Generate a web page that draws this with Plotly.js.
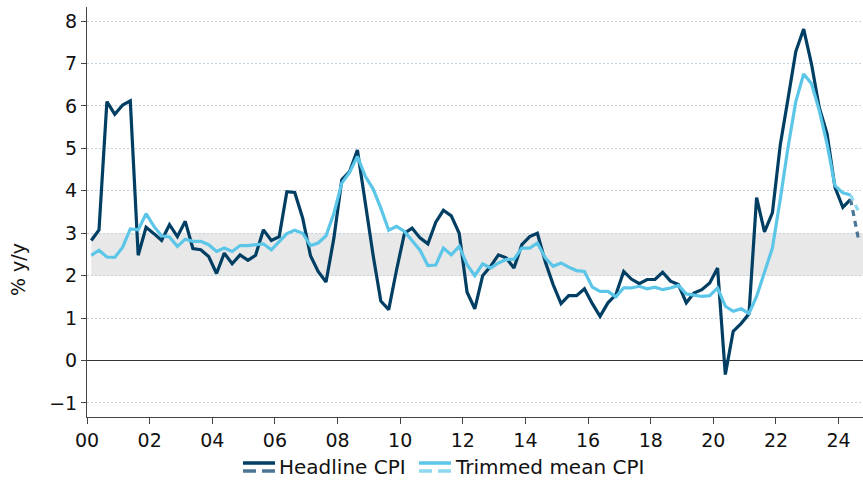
<!DOCTYPE html>
<html>
<head>
<meta charset="utf-8">
<script src="https://cdn.plot.ly/plotly-3.0.1.min.js"></script>
<style>html,body{margin:0;padding:0;background:#fff;}#chart{width:863px;height:490px;}</style>
</head>
<body>
<div id="chart"></div>
<script>
// Quarterly series, Mar-2000 quarter onward (last value = latest / dashed segment)
const startYear = 2000;
const quarterMonths = ["02", "05", "08", "11"];

const headlineCPI = [
  2.83, 3.08, 6.10, 5.80, 6.02, 6.12, 2.48, 3.14, 2.99, 2.83,
  3.20, 2.92, 3.28, 2.64, 2.61, 2.45, 2.05, 2.53, 2.28, 2.49,
  2.36, 2.48, 3.08, 2.83, 2.92, 3.98, 3.96, 3.36, 2.47, 2.10,
  1.85, 2.89, 4.26, 4.45, 4.96, 3.65, 2.47, 1.40, 1.20, 2.14,
  3.00, 3.12, 2.89, 2.75, 3.26, 3.54, 3.41, 3.00, 1.61, 1.22,
  2.00, 2.22, 2.49, 2.42, 2.18, 2.73, 2.92, 3.00, 2.33, 1.79,
  1.34, 1.53, 1.53, 1.69, 1.34, 1.04, 1.36, 1.55, 2.10, 1.92,
  1.81, 1.91, 1.91, 2.08, 1.87, 1.79, 1.36, 1.59, 1.67, 1.83,
  2.18, -0.33, 0.69, 0.87, 1.10, 3.84, 3.03, 3.48, 5.08, 6.15,
  7.28, 7.81, 6.98, 5.97, 5.34, 4.08, 3.61, 3.80, 2.86
];

const trimmedMeanCPI = [
  2.48, 2.60, 2.44, 2.43, 2.67, 3.10, 3.08, 3.46, 3.16, 2.94,
  2.91, 2.69, 2.86, 2.81, 2.81, 2.73, 2.57, 2.65, 2.57, 2.71,
  2.71, 2.73, 2.75, 2.61, 2.80, 2.99, 3.07, 3.00, 2.71, 2.77,
  2.94, 3.47, 4.18, 4.43, 4.81, 4.34, 4.04, 3.59, 3.07, 3.16,
  3.04, 2.81, 2.60, 2.24, 2.25, 2.65, 2.49, 2.69, 2.26, 2.00,
  2.28, 2.18, 2.30, 2.38, 2.39, 2.65, 2.65, 2.77, 2.42, 2.22,
  2.30, 2.20, 2.12, 2.10, 1.73, 1.63, 1.63, 1.50, 1.71, 1.71,
  1.75, 1.69, 1.73, 1.67, 1.71, 1.77, 1.57, 1.54, 1.51, 1.53,
  1.71, 1.28, 1.16, 1.22, 1.11, 1.51, 2.06, 2.65, 3.80, 5.00,
  6.10, 6.75, 6.52, 5.90, 5.10, 4.12, 3.95, 3.90, 3.52
];

const targetBand = [2, 3];
const yTickVals = [-1, 0, 1, 2, 3, 4, 5, 6, 7, 8];
const seriesNames = ["Headline CPI", "Trimmed mean CPI"];
const yTitle = "% y/y";
const xRange = ["2000-01-01", "2024-10-12"];

const dates = headlineCPI.map((_, i) =>
  (startYear + Math.floor(i / 4)) + "-" + quarterMonths[i % 4] + "-20");

const n = dates.length;
const solidX = dates.slice(0, n - 1);
const dashX = dates.slice(n - 2);

const navy = "#003f63";
const navyDash = "#4d7694";
const light = "#5bc6e8";
const lightDash = "#8fd8f0";
const lw = 3.2;

const traces = [
  {x: solidX, y: headlineCPI.slice(0, n - 1), name: seriesNames[0], type: "scatter", mode: "lines",
   line: {color: navy, width: lw}, showlegend: false},
  {x: solidX, y: trimmedMeanCPI.slice(0, n - 1), name: seriesNames[1], type: "scatter", mode: "lines",
   line: {color: light, width: lw}, showlegend: false},
  {x: dashX, y: headlineCPI.slice(n - 2), type: "scatter", mode: "lines", showlegend: false,
   line: {color: navyDash, width: lw, dash: "6px,5px"}},
  {x: dashX, y: trimmedMeanCPI.slice(n - 2), type: "scatter", mode: "lines", showlegend: false,
   line: {color: lightDash, width: lw, dash: "6px,5px"}}
];

const font = "DejaVu Sans, Verdana, sans-serif";
const fs = 19;

// plot-area pixel geometry -> paper coords for the manual legend
const L = 87, T = 7, W = 776, H = 410;
const px = v => (v - L) / W;
const py = v => (T + H - v) / H;

const legendItems = [
  {name: seriesNames[0], x0: 243, solid: navy, dash: navyDash},
  {name: seriesNames[1], x0: 419, solid: light, dash: lightDash}
];
const legendY = 467;

const shapes = [
  {type: "rect", xref: "x", yref: "y", layer: "below",
   x0: dates[0], x1: xRange[1], y0: targetBand[0], y1: targetBand[1],
   fillcolor: "#e8e8e8", line: {width: 0}}
];
const annotations = [
  {text: yTitle, xref: "paper", yref: "paper", x: px(18), y: py(270), textangle: -90,
   showarrow: false, xanchor: "center", yanchor: "middle",
   font: {family: font, size: fs, color: "#111"}}
];
legendItems.forEach(it => {
  shapes.push({type: "line", xref: "paper", yref: "paper", x0: px(it.x0), x1: px(it.x0 + 32),
               y0: py(legendY - 4), y1: py(legendY - 4), line: {color: it.solid, width: 3.5}});
  shapes.push({type: "line", xref: "paper", yref: "paper", x0: px(it.x0), x1: px(it.x0 + 32),
               y0: py(legendY + 4), y1: py(legendY + 4), line: {color: it.dash, width: 3.5, dash: "13px,6px"}});
  annotations.push({text: it.name, xref: "paper", yref: "paper", x: px(it.x0 + 34), y: py(legendY),
                    xanchor: "left", yanchor: "middle", showarrow: false,
                    font: {family: font, size: 20, color: "#111"}});
});

const layout = {
  width: 863, height: 490,
  margin: {l: L, r: 0, t: T, b: 490 - T - H, autoexpand: false},
  paper_bgcolor: "#fff", plot_bgcolor: "#fff",
  font: {family: font, size: fs, color: "#111"},
  showlegend: false,
  xaxis: {type: "date", range: xRange, tickformat: "%y", dtick: "M24", tick0: "2000-01-01",
          ticks: "outside", ticklen: 6, tickcolor: "#444", tickwidth: 1,
          showline: true, linecolor: "#444", linewidth: 1, showgrid: false, zeroline: false,
          tickfont: {family: font, size: fs, color: "#111"}},
  yaxis: {range: [-1.33, 8.33], tickvals: yTickVals, ticks: "outside", ticklen: 5,
          tickcolor: "#444", showline: true, linecolor: "#444", linewidth: 1,
          showgrid: true, gridcolor: "#c3d2dc", griddash: "2px,2px", gridwidth: 1,
          zeroline: true, zerolinecolor: "#333", zerolinewidth: 1.2,
          tickfont: {family: font, size: fs, color: "#111"}},
  shapes: shapes,
  annotations: annotations
};

Plotly.newPlot("chart", traces, layout, {displayModeBar: false, staticPlot: true});
</script>
</body>
</html>
